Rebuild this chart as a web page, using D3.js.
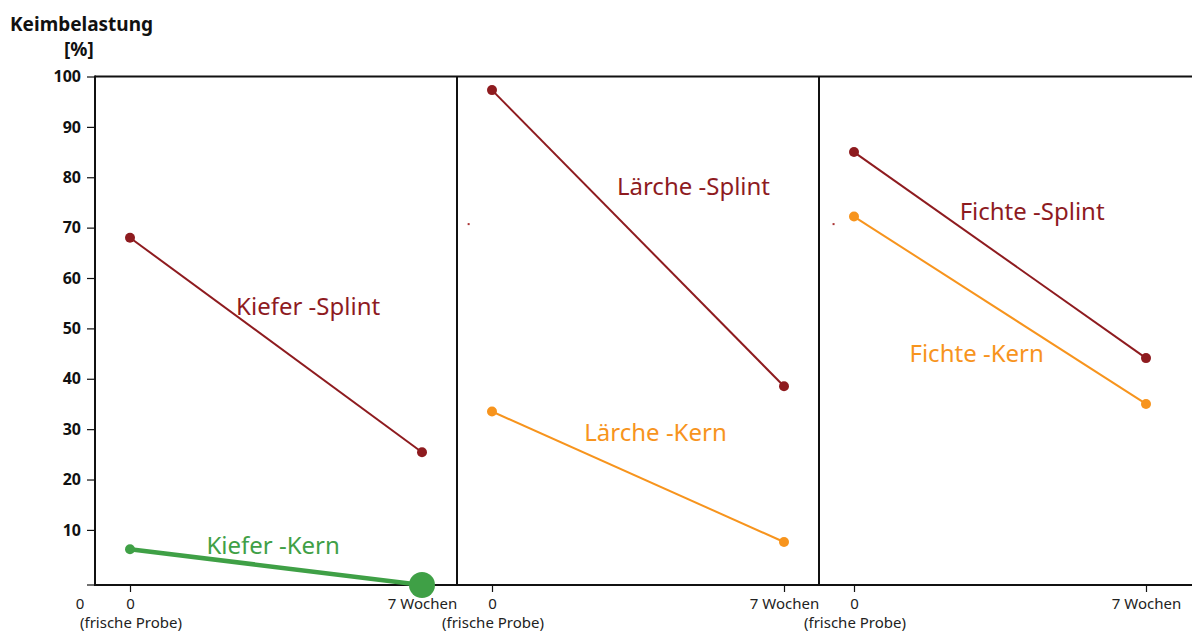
<!DOCTYPE html>
<html><head><meta charset="utf-8">
<script src="https://cdn.jsdelivr.net/npm/d3@7"></script>
<style>
html,body{margin:0;padding:0;background:#fff;}
svg{display:block;}
text{font-family:"Noto Sans",sans-serif;}
</style></head>
<body>
<svg id="c" width="1192" height="634"></svg>
<script>
// ---- data ----
const panels = ["Kiefer", "Lärche", "Fichte"];
const timeLabels = ["0", "7 Wochen"];
const timeSubLabels = ["(frische Probe)", ""];
const yTicks = [10, 20, 30, 40, 50, 60, 70, 80, 90, 100];

const seriesNames = ["Kiefer -Splint", "Kiefer -Kern", "Lärche -Splint", "Lärche -Kern", "Fichte -Splint", "Fichte -Kern"];
const seriesPanel = [0, 0, 1, 1, 2, 2];
const seriesType  = ["Splint", "Kern", "Splint", "Kern", "Splint", "Kern"];
const seriesStart = [68.0, 6.5, 97.3, 33.5, 85.0, 72.2];
const seriesEnd   = [25.4, 0, 38.5, 7.8, 44.1, 35.0];
// label anchors (t along time axis, value)
const labelT   = [0.61, 0.49, 0.69, 0.56, 0.61, 0.42];
const labelVal = [54.6, 7.3, 78.4, 29.5, 73.5, 45.2];
// stray marks in reference
const strayPanel = [1, 2];
const strayT = [-0.08, -0.07];
const strayVal = [70.7, 70.7];

(function () {
const colors = {Splint: "#8e1b1f", Kern: "#f7941d", KernKiefer: "#3fa046"};

// ---- layout ----
const W = 1192;
const mLeft = 95, mTop = 76.5, mBottom = 585;
const panelW = 362;
const svg = d3.select("#c");

// the original axis has a slightly stretched 0–10 band
const y = d3.scaleLinear().domain([0, 10, 100]).range([mBottom, 529.9, mTop]);
const px = d3.scaleBand().domain(d3.range(panels.length)).range([mLeft, mLeft + panelW * 3]).paddingInner(0);
const tx = i => d3.scaleLinear().domain([0, 1]).range([px(i) + 35, px(i) + 327]);

// frame
const g = svg.append("g");
g.append("line").attr("x1", mLeft).attr("x2", W).attr("y1", mTop).attr("y2", mTop).attr("stroke", "#111").attr("stroke-width", 2);
g.append("line").attr("x1", mLeft).attr("x2", W).attr("y1", mBottom).attr("y2", mBottom).attr("stroke", "#111").attr("stroke-width", 2);
g.append("line").attr("x1", mLeft).attr("x2", mLeft).attr("y1", mTop - 1).attr("y2", mBottom + 1).attr("stroke", "#111").attr("stroke-width", 2);
panels.forEach((p, i) => {
  if (i > 0) g.append("line").attr("x1", px(i)).attr("x2", px(i)).attr("y1", mTop).attr("y2", mBottom).attr("stroke", "#111").attr("stroke-width", 2);
});

// y axis
const yAxis = d3.axisLeft(y).tickValues(yTicks).tickSize(8).tickPadding(6).tickFormat(d3.format("d"));
const ya = svg.append("g").attr("transform", `translate(${mLeft},0)`).call(yAxis);
ya.select(".domain").remove();
ya.selectAll(".tick line").attr("stroke", "#111").attr("stroke-width", 1.2);
ya.selectAll(".tick text").attr("font-size", 16).attr("font-weight", "bold").attr("fill", "#111").attr("font-family", '"Open Sans",sans-serif');
// baseline tick (unlabeled) + origin label
svg.append("line").attr("x1", mLeft - 8).attr("x2", mLeft).attr("y1", y(0)).attr("y2", y(0)).attr("stroke", "#111").attr("stroke-width", 1.2);
svg.append("text").attr("x", 80).attr("y", 609).attr("text-anchor", "middle").attr("font-size", 15).attr("fill", "#222").text("0");

// titles
svg.append("text").attr("x", 10).attr("y", 31).attr("font-size", 19).attr("font-weight", "bold").attr("fill", "#111").attr("font-family", '"Open Sans",sans-serif').text("Keimbelastung");
svg.append("text").attr("x", 64).attr("y", 56).attr("font-size", 19).attr("font-weight", "bold").attr("fill", "#111").attr("font-family", '"Open Sans",sans-serif').text("[%]");

// x axes per panel
panels.forEach((p, i) => {
  const xs = tx(i);
  const ax = d3.axisBottom(xs).tickValues([0, 1]).tickSize(7).tickPadding(6).tickFormat((d, k) => timeLabels[k]);
  const a = svg.append("g").attr("transform", `translate(0,${mBottom})`).call(ax);
  a.select(".domain").remove();
  a.selectAll(".tick line").attr("stroke", "#111").attr("stroke-width", 1.2);
  a.selectAll(".tick text").attr("font-size", 15).attr("fill", "#222").attr("font-family", '"Noto Sans",sans-serif');
  svg.append("text").attr("x", xs(0) + 1).attr("y", 628).attr("text-anchor", "middle").attr("font-size", 15).attr("fill", "#222").text(timeSubLabels[0]);
});

// series
seriesNames.forEach((name, s) => {
  const i = seriesPanel[s];
  const xs = tx(i);
  const isKieferKern = (i === 0 && seriesType[s] === "Kern");
  const col = isKieferKern ? colors.KernKiefer : colors[seriesType[s]];
  const pts = [[0, seriesStart[s]], [1, seriesEnd[s]]];
  svg.append("path").datum(pts)
    .attr("d", d3.line().x(d => xs(d[0])).y(d => y(d[1])))
    .attr("fill", "none").attr("stroke", col).attr("stroke-width", isKieferKern ? 4.5 : 2);
  svg.selectAll(null).data(pts).join("circle")
    .attr("cx", d => xs(d[0])).attr("cy", d => y(d[1]))
    .attr("r", (d, k) => isKieferKern && k === 1 ? 13 : 5)
    .attr("fill", col);
  svg.append("text").attr("x", xs(labelT[s])).attr("y", y(labelVal[s]))
    .attr("text-anchor", "middle").attr("dominant-baseline", "central")
    .attr("font-size", 24).attr("fill", col).text(name);
});

// stray marks
strayPanel.forEach((i, k) => {
  const xs = tx(i);
  svg.append("rect").attr("x", xs(strayT[k]) - 1).attr("y", y(strayVal[k]) - 1).attr("width", 2).attr("height", 2).attr("fill", "#a33");
});
})();
</script>
</body></html>
